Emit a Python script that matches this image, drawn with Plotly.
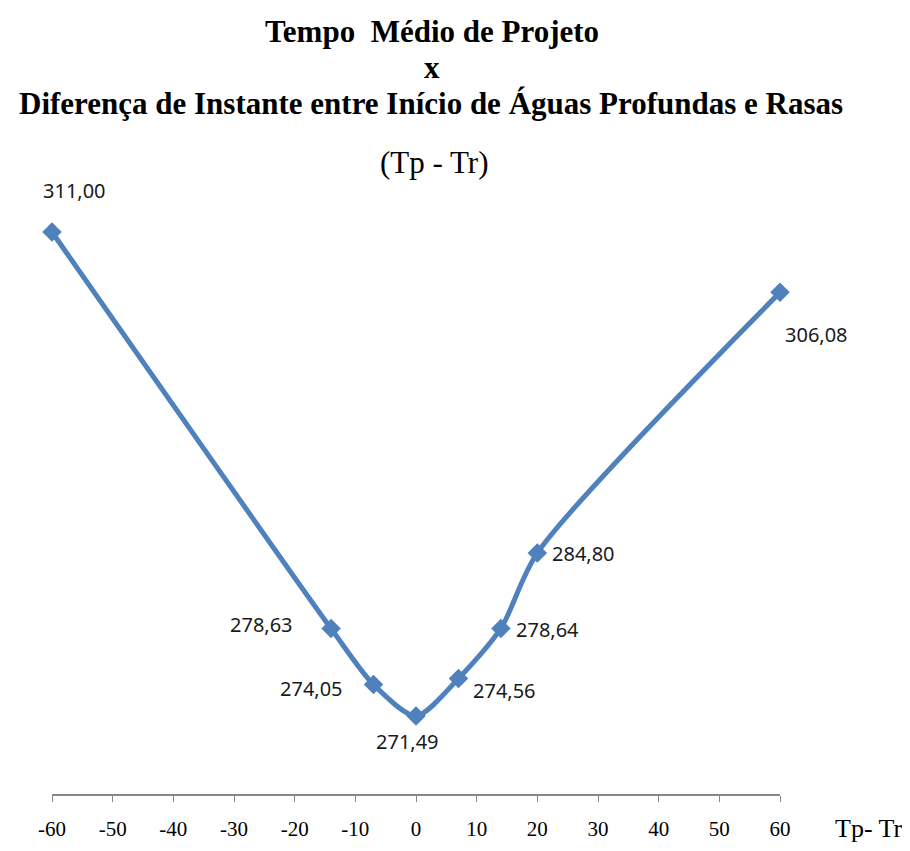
import plotly.graph_objects as go

# Data
x_vals = [-60, -14, -7, 0, 7, 14, 20, 60]
y_vals = [311.00, 278.63, 274.05, 271.49, 274.56, 278.64, 284.80, 306.08]
labels = ["311,00", "278,63", "274,05", "271,49", "274,56", "278,64", "284,80", "306,08"]
tick_vals = list(range(-60, 61, 10))
tick_text = ["-60", "-50", "-40", "-30", "-20", "-10", "0", "10", "20", "30", "40", "50", "60"]

# label offsets in pixels (style)
offsets = [(22, 42), (-70, 4), (-62, -4), (-9, -26), (46, -12), (47, -1), (46, -1), (36, -42)]

color = "#4F81BD"

fig = go.Figure()
fig.add_trace(go.Scatter(
    x=x_vals, y=y_vals, mode="lines+markers",
    line=dict(color=color, width=5, shape="spline", smoothing=0.75),
    marker=dict(symbol="diamond", size=15, color=color),
    cliponaxis=False, hoverinfo="x+y", showlegend=False,
))

ann = []
for xv, yv, lab, (dx, dy) in zip(x_vals, y_vals, labels, offsets):
    ann.append(dict(x=xv, y=yv, xref="x", yref="y", text=lab, showarrow=False,
                    xshift=dx, yshift=dy,
                    font=dict(family="Noto Sans", size=20, color="#1a1a1a")))

# page has 8px body margin; plot area in page px: 52..780 horizontally, 180..794 vertically
def px_x(p):
    return (p - 52) / 728.0

def px_y(p):
    return (794 - p) / 614.0

title_font = dict(family="Liberation Serif", size=31, color="black")
ann += [
    dict(x=px_x(432), y=px_y(32), xref="paper", yref="paper", text="<b>Tempo  Médio de Projeto</b>",
         showarrow=False, font=title_font, xanchor="center", yanchor="middle"),
    dict(x=px_x(432), y=px_y(68), xref="paper", yref="paper", text="<b>x</b>",
         showarrow=False, font=title_font, xanchor="center", yanchor="middle"),
    dict(x=px_x(431), y=px_y(104), xref="paper", yref="paper",
         text="<b>Diferença de Instante entre Início de Águas Profundas e Rasas</b>",
         showarrow=False, font=title_font, xanchor="center", yanchor="middle"),
    dict(x=px_x(434), y=px_y(162), xref="paper", yref="paper", text="(Tp - Tr)",
         showarrow=False, font=dict(family="Liberation Serif", size=31, color="black"),
         xanchor="center", yanchor="middle"),
    dict(x=px_x(905), y=px_y(828), xref="paper", yref="paper", text="Tp- Tr",
         showarrow=False, font=dict(family="Liberation Serif", size=26, color="black"),
         xanchor="right", yanchor="middle"),
]

fig.update_layout(
    width=902, height=843,
    margin=dict(l=44, r=130, t=172, b=57, autoexpand=False),
    paper_bgcolor="white", plot_bgcolor="white",
    annotations=ann,
    xaxis=dict(range=[-60, 60], tickvals=tick_vals, ticktext=tick_text, ticks="outside", ticklen=6,
               tickcolor="#868686", showline=True, linecolor="#868686", linewidth=1.5,
               showgrid=False, zeroline=False, ticklabelstandoff=9, automargin=False,
               tickfont=dict(family="Liberation Serif", size=21, color="black")),
    yaxis=dict(range=[265.12, 315.25], visible=False, showgrid=False, zeroline=False,
               automargin=False),
)

fig.write_html("out.html")
